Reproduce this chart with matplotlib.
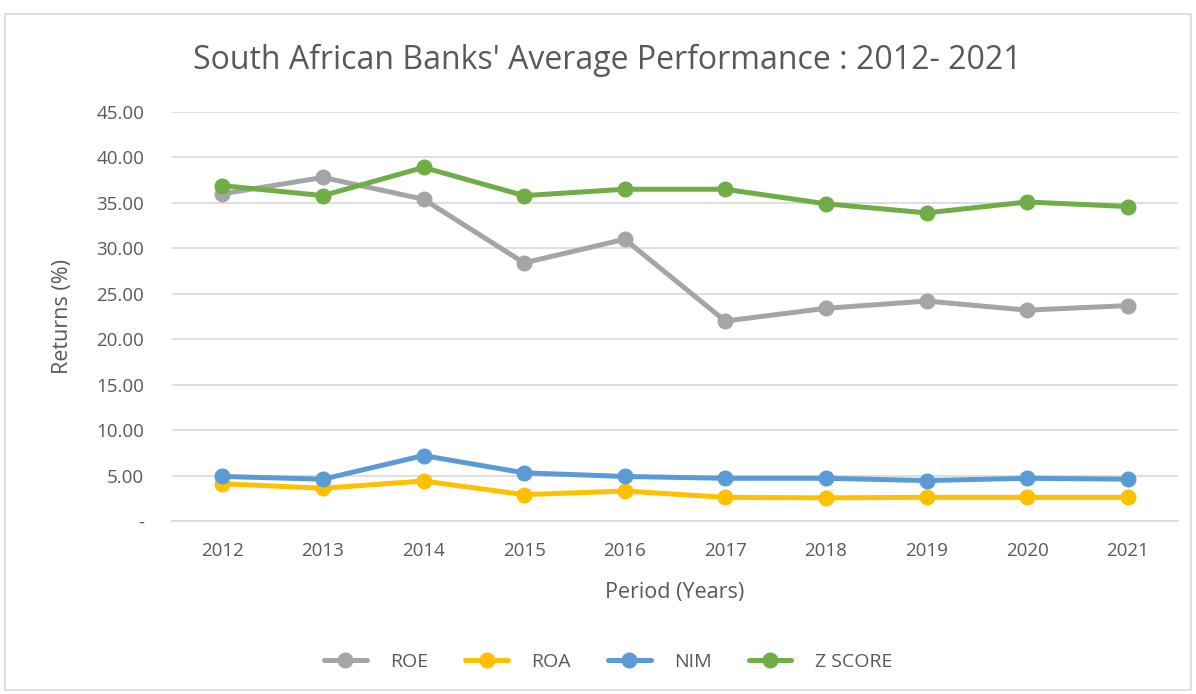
import matplotlib.pyplot as plt
from matplotlib.patches import Rectangle
from matplotlib.ticker import FuncFormatter

# data
years = [2012, 2013, 2014, 2015, 2016, 2017, 2018, 2019, 2020, 2021]
roe = [36.0, 37.8, 35.4, 28.4, 31.0, 22.0, 23.4, 24.2, 23.2, 23.7]
roa = [4.1, 3.6, 4.4, 2.9, 3.3, 2.6, 2.55, 2.6, 2.6, 2.6]
nim = [4.9, 4.6, 7.2, 5.3, 4.9, 4.7, 4.7, 4.45, 4.7, 4.6]
zscore = [36.9, 35.8, 38.9, 35.8, 36.5, 36.5, 34.9, 33.9, 35.1, 34.6]

series = [("ROE", roe, "#A5A5A5"),
          ("ROA", roa, "#FFC000"),
          ("NIM", nim, "#5B9BD5"),
          ("Z SCORE", zscore, "#70AD47")]

plt.rcParams['font.family'] = ['Open Sans', 'DejaVu Sans']
txt = "#595959"

fig = plt.figure(figsize=(11.96, 6.94), dpi=100)
fig.patches.append(Rectangle((5/1196, 4/694), 1186/1196, 676/694,
                             transform=fig.transFigure, fill=False,
                             edgecolor="#D9D9D9", lw=1.2))

ax = fig.add_axes([172/1196, 1 - 521/694, 1006/1196, 409/694])
x = list(range(len(years)))
for name, vals, col in series:
    ax.plot(x, vals, color=col, lw=3.6, marker='o', ms=10.5, label=name,
            solid_capstyle='round')

ax.set_xlim(-0.5, len(years) - 0.5)
ax.set_ylim(0, 45)
ax.set_yticks(range(0, 46, 5))
ax.yaxis.set_major_formatter(FuncFormatter(lambda v, p: "-" if v == 0 else f"{v:.2f}"))
ax.set_xticks(x)
ax.set_xticklabels([str(y) for y in years])
ax.grid(axis='y', color="#D9D9D9", lw=1.2)
ax.set_axisbelow(True)
for s in ['top', 'right', 'left']:
    ax.spines[s].set_visible(False)
ax.spines['bottom'].set_color("#D9D9D9")
ax.spines['bottom'].set_linewidth(1.2)
ax.tick_params(length=0, labelsize=13.5, colors=txt)
ax.tick_params(axis='x', pad=15)
ax.tick_params(axis='y', pad=20)

ax.set_ylabel("Returns (%)", fontsize=15.5, color=txt, labelpad=17)
ax.set_xlabel("Period (Years)", fontsize=15.5, color=txt, labelpad=16)

fig.text(607/1196, 1 - 60/694, "South African Banks' Average Performance : 2012- 2021",
         ha='center', va='center', fontsize=23, color=txt)

fig.legend(loc='center', bbox_to_anchor=(608/1196, 1 - 662/694), ncol=4,
           frameon=False, fontsize=14, handlelength=2.2, columnspacing=1.9,
           handletextpad=1.2, labelcolor=txt)

fig.savefig("out.png", dpi=100)
